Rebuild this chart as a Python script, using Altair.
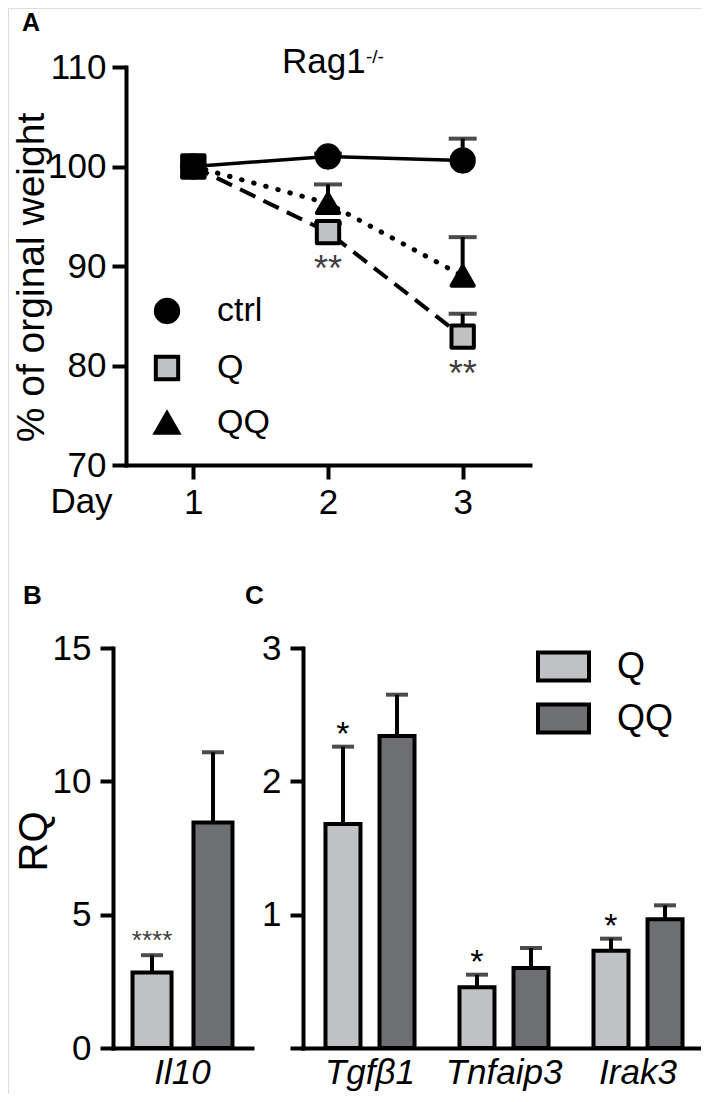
import altair as alt
import pandas as pd

FONT = "Liberation Sans"

# ---------------- Panel A data (weight curves) ----------------
days = [1, 2, 3]
weight_groups = ["ctrl", "Q", "QQ"]
ctrl_mean = [100.0, 101.0, 100.6]
ctrl_sem = [0.0, 0.3, 2.2]
q_mean = [100.0, 93.4, 82.9]
q_sem = [0.0, 0.9, 2.3]
qq_mean = [100.0, 96.3, 89.0]
qq_sem = [0.0, 1.9, 3.9]
weight_sig_days = [2, 3]
weight_sig_labels = ["**", "**"]

# ---------------- Panel B data (Il10) ----------------
b_genes = ["Il10"]
bar_groups = ["Q", "QQ"]
b_q_mean = [2.83]
b_q_sem = [0.65]
b_qq_mean = [8.46]
b_qq_sem = [2.63]
b_sig = ["****"]

# ---------------- Panel C data ----------------
c_genes = ["Tgfβ1", "Tnfaip3", "Irak3"]
c_q_mean = [1.68, 0.455, 0.73]
c_q_sem = [0.58, 0.095, 0.09]
c_qq_mean = [2.34, 0.60, 0.965]
c_qq_sem = [0.31, 0.15, 0.105]
c_sig = ["*", "*", "*"]

Q_GRAY = "#c0c1c5"
QQ_GRAY = "#6e6f73"

# ---------- build tables ----------
rows = []
for g, m, s in zip(weight_groups, [ctrl_mean, q_mean, qq_mean], [ctrl_sem, q_sem, qq_sem]):
    for d, mv, sv in zip(days, m, s):
        rows.append({"day": d, "grp": g, "mean": mv, "sem": sv, "top": mv + sv})
dfA = pd.DataFrame(rows)
dfA_sig = pd.DataFrame({"day": weight_sig_days,
                        "mean": [q_mean[days.index(d)] for d in weight_sig_days],
                        "lab": weight_sig_labels})


def bar_table(genes, qm, qs, qqm, qqs, sig):
    r = []
    for i, gname in enumerate(genes):
        r.append({"gene": gname, "grp": "Q", "mean": qm[i], "top": qm[i] + qs[i], "sig": sig[i]})
        r.append({"gene": gname, "grp": "QQ", "mean": qqm[i], "top": qqm[i] + qqs[i], "sig": ""})
    return pd.DataFrame(r)


dfB = bar_table(b_genes, b_q_mean, b_q_sem, b_qq_mean, b_qq_sem, b_sig)
dfC = bar_table(c_genes, c_q_mean, c_q_sem, c_qq_mean, c_qq_sem, c_sig)

H = 1086
W = 693

axis_common = dict(domainColor="black", domainWidth=4, tickColor="black", tickWidth=4,
                   labelColor="black", labelFont=FONT, titleFont=FONT, titleColor="black",
                   titleFontWeight="normal", grid=False, domainCap="square")

# ---------------- Panel A ----------------
xA = alt.X("day:Q",
           scale=alt.Scale(domain=[0.5, 3.5], range=[118, 522], nice=False, zero=False),
           axis=alt.Axis(orient="bottom", offset=457 - H, values=days, format="d",
                         tickSize=14, labelFontSize=35, labelPadding=6,
                         title="Day", titleFontSize=35, titleX=73, titleY=47,
                         titleAlign="center", titleBaseline="alphabetic", titleAngle=0,
                         **axis_common))
yA_scale = alt.Scale(domain=[70, 110], range=[457, 59], nice=False, zero=False)
yA = alt.Y("mean:Q", scale=yA_scale,
           axis=alt.Axis(orient="left", offset=-118, values=[70, 80, 90, 100, 110],
                         format="d", tickSize=14, labelFontSize=35, labelPadding=6,
                         title="% of orginal weight", titleFontSize=39,
                         titleX=-95, titleY=269, titleBaseline="middle",
                         titleAlign="center", titleAngle=270,
                         **axis_common))

baseA = alt.Chart(dfA)

line_ctrl = baseA.transform_filter("datum.grp == 'ctrl'").mark_line(
    color="black", strokeWidth=3.5).encode(x=xA, y=yA)
line_q = baseA.transform_filter("datum.grp == 'Q'").mark_line(
    color="black", strokeWidth=4, strokeDash=[17, 9]).encode(x=xA, y=yA)
line_qq = baseA.transform_filter("datum.grp == 'QQ'").mark_line(
    color="black", strokeWidth=5, strokeDash=[0.5, 12], strokeCap="round").encode(x=xA, y=yA)

err_A = baseA.transform_filter("datum.sem > 0").mark_rule(
    color="black", strokeWidth=4).encode(x=xA, y=yA, y2="top:Q")
cap_A = baseA.transform_filter("datum.sem > 0").mark_tick(
    color="black", orient="horizontal", size=28, thickness=4).encode(
    x=xA, y=alt.Y("top:Q", scale=yA_scale))

legA = alt.Legend(orient="none", legendX=142, legendY=286, title=None, padding=0,
                  symbolSize=500, symbolStrokeWidth=4, symbolStrokeColor="black",
                  labelFontSize=34, labelFont=FONT, labelColor="black",
                  labelOffset=33, rowPadding=17)

pts_A = baseA.mark_point(filled=True, size=500, strokeWidth=4,
                         strokeJoin="round", opacity=1).encode(
    x=xA, y=yA,
    shape=alt.Shape("grp:N", scale=alt.Scale(domain=weight_groups,
                                              range=["circle", "square", "triangle-up"]),
                    legend=legA),
    stroke=alt.Stroke("grp:N", scale=alt.Scale(domain=weight_groups,
                                                range=["black", "black", "black"]),
                      legend=legA),
    fill=alt.condition("datum.day == 1", alt.value("black"),
                       alt.Fill("grp:N", scale=alt.Scale(domain=weight_groups,
                                                         range=["black", Q_GRAY, "black"]),
                                legend=legA)),
)

stars_A = alt.Chart(dfA_sig).mark_text(dy=38, fontSize=36, color="#404040",
                                       baseline="middle", font=FONT).encode(
    x=xA, y=yA, text="lab:N")

panelA = alt.layer(line_ctrl, line_q, line_qq, err_A, cap_A, pts_A, stars_A)

# ---------------- Panel B / C helper ----------------


def bar_panel(df, genes, xr, ydom, yvals, ytitle, y_offset,
              pad_in, pad_out, legend, star_size, star_dy, star_color, hide_zero):
    xs = alt.Scale(domain=genes, range=xr, paddingInner=0, paddingOuter=0)
    x = alt.X("gene:N", scale=xs, sort=genes,
              axis=alt.Axis(orient="bottom", offset=1040 - H, title=None, labelAngle=0,
                            ticks=False, tickSize=0, labelFontSize=35,
                            labelFontStyle="italic", labelPadding=7,
                            **axis_common))
    xo = alt.XOffset("grp:N", scale=alt.Scale(domain=bar_groups, paddingInner=pad_in,
                                              paddingOuter=pad_out))
    ysc = alt.Scale(domain=ydom, range=[1040, 640], nice=False, zero=True)
    ax = dict(orient="left", offset=y_offset, values=yvals, format="d", tickSize=13,
              labelFontSize=35, labelPadding=9, **axis_common)
    if hide_zero:
        ax["labelExpr"] = "datum.value == 0 ? '' : datum.label"
    if ytitle:
        ax.update(title=ytitle, titleFontSize=40, titleX=26 - xr[0], titleY=833,
                  titleBaseline="middle", titleAlign="center", titleAngle=270)
    else:
        ax.update(title=None)
    y = alt.Y("mean:Q", scale=ysc, axis=alt.Axis(**ax))
    base = alt.Chart(df)
    err = base.mark_rule(color="black", strokeWidth=4).encode(x=x, xOffset=xo, y=y, y2="top:Q")
    cap = base.mark_tick(color="black", orient="horizontal", size=22, thickness=4).encode(
        x=x, xOffset=xo, y=alt.Y("top:Q", scale=ysc))
    bars = base.mark_bar(stroke="black", strokeWidth=4, strokeJoin="miter").encode(
        x=x, xOffset=xo, y=y,
        fill=alt.Fill("grp:N", scale=alt.Scale(domain=bar_groups, range=[Q_GRAY, QQ_GRAY]),
                      legend=legend))
    stars = base.transform_filter("datum.sig != ''").mark_text(
        dy=star_dy, fontSize=star_size, color=star_color, baseline="middle", font=FONT).encode(
        x=x, xOffset=xo, y=alt.Y("top:Q", scale=ysc), text="sig:N")
    return alt.layer(err, cap, bars, stars)


panelB = bar_panel(dfB, b_genes, [105, 244], [0, 15], [0, 5, 10, 15], "RQ", -105,
                   0.36, 0.32, None, 26, -14, "#404040", False)

legC = alt.Legend(orient="none", legendX=528, legendY=631, title=None, padding=0,
                  symbolType="M-1,-0.55H1V0.55H-1Z", symbolSize=2601,
                  symbolStrokeColor="black", symbolStrokeWidth=4,
                  labelFontSize=36, labelFont=FONT, labelColor="black",
                  labelOffset=26, rowPadding=2)

panelC = bar_panel(dfC, c_genes, [295, 697], [0, 3], [0, 1, 2, 3], None, -295,
                   0.352, 0.416, legC, 34, -12, "black", True)


# ---------------- text annotations ----------------
def label(txt, x, y, size, weight="normal", align="left"):
    return alt.Chart(pd.DataFrame({"t": [txt]})).mark_text(
        fontSize=size, fontWeight=weight, font=FONT, color="black", align=align,
        baseline="alphabetic").encode(x=alt.value(x), y=alt.value(y), text="t:N")


letters = [
    label("A", 14, 23, 25, "bold"),
    label("B", 15, 596, 26, "bold"),
    label("C", 237, 596, 26, "bold"),
    label("Rag1", 274, 65, 35),
    label("-/-", 358, 55, 19),
]

chart = alt.layer(panelA, panelB, panelC, *letters).resolve_scale(
    x="independent", y="independent", xOffset="independent",
    fill="independent", shape="independent", stroke="independent"
).resolve_axis(x="independent", y="independent").resolve_legend(
    fill="independent", shape="independent", stroke="independent"
).properties(
    width=W, height=H, autosize=alt.AutoSizeParams(type="none"), padding=0,
    background="white"
).configure_view(stroke="transparent", strokeWidth=0).configure(font=FONT)

chart.save("out.html", embed_options={"renderer": "svg", "actions": False})
